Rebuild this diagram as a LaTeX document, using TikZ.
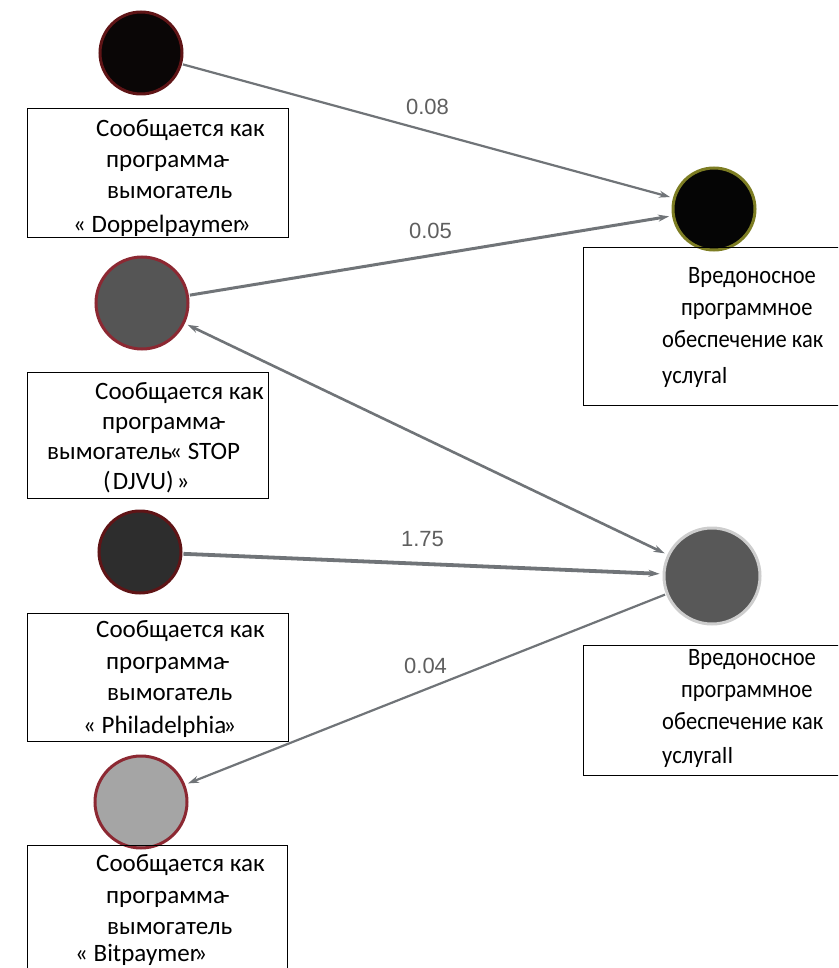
\documentclass[tikz,border=0pt]{standalone}
\usepackage{fontspec}
\setmainfont{Carlito}
\newfontfamily\narrowfont[FakeStretch=0.9]{Carlito}
\newfontfamily\labelfont{Liberation Sans}
\usetikzlibrary{arrows.meta}

% node colours
\definecolor{edgegray}{RGB}{112,116,120}
\definecolor{weightgray}{RGB}{95,95,95}
\definecolor{darkrim}{RGB}{95,20,22}
\definecolor{redrim}{RGB}{140,40,50}
\definecolor{olivrim}{RGB}{125,125,35}
\definecolor{lightrim}{RGB}{205,205,205}
\definecolor{fillA}{RGB}{10,6,6}
\definecolor{fillB}{RGB}{85,85,85}
\definecolor{fillC}{RGB}{45,45,45}
\definecolor{fillD}{RGB}{165,165,165}
\definecolor{fillE}{RGB}{5,5,5}
\definecolor{fillF}{RGB}{88,88,88}

\tikzset{
  vertex/.style={circle, line width=3pt, inner sep=0pt},
  labelbox/.style={draw=black, line width=1.3pt, rectangle, inner sep=0pt, anchor=north west},
  boxtext/.style={anchor=base west, inner sep=0pt, font=\fontsize{25}{28}\selectfont},
  narrowtext/.style={anchor=base west, inner sep=0pt, font=\narrowfont\fontsize{25}{28}\selectfont},
  link/.style={draw=edgegray, -{Stealth[length=11pt,width=7pt]}, shorten >=3pt, shorten <=1pt},
  weight/.style={midway, above=15pt, inner sep=0pt, text=weightgray, font=\labelfont\fontsize{22}{26}\selectfont}
}

% one text line of a label box, placed by its baseline start
\newcommand\textline[4]{\node[boxtext] (#1) at (#2,#3) {#4};}
\newcommand\narrowline[4]{\node[narrowtext] (#1) at (#2,#3) {#4};}
% one label box, from its top left corner, with its size
\newcommand\labelframe[5]{\node[labelbox, minimum width=#4pt, minimum height=#5pt] (#1) at (#2,#3) {};}

\begin{document}
\begin{tikzpicture}[x=1pt, y=-1pt]
\useasboundingbox (0,0) rectangle (838,968);
\clip (0,0) rectangle (838,968);

% vertices
\node[vertex, draw=darkrim, fill=fillA, minimum size=82pt] (A) at (141,53) {};
\node[vertex, draw=redrim,  fill=fillB, minimum size=92pt] (B) at (142,303) {};
\node[vertex, draw=darkrim, fill=fillC, minimum size=82pt] (C) at (140,552) {};
\node[vertex, draw=redrim,  fill=fillD, minimum size=92pt] (D) at (141,802) {};
\node[vertex, draw=olivrim, fill=fillE, minimum size=82pt] (E) at (714,209) {};
\node[vertex, draw=lightrim,fill=fillF, minimum size=96pt] (F) at (712,576) {};

% weighted links
\draw[link, line width=2.2pt] (A) -- (E) node[weight] (w1) {0.08};
\draw[link, line width=3pt]   (B) -- (E) node[weight] (w2) {0.05};
\draw[link, line width=2.6pt, {Stealth[length=11pt,width=7pt]}-{Stealth[length=11pt,width=7pt]}, shorten <=3pt] (F) -- (B);
\draw[link, line width=3.8pt] (C) -- (F) node[weight] (w3) {1.75};
\draw[link, line width=2.2pt] (F) -- (D) node[weight] (w4) {0.04};

% label boxes
\labelframe{bA}{27}{108}{261}{129}
\labelframe{bB}{27}{372}{241}{126}
\labelframe{bC}{27}{613}{261}{128}
\labelframe{bD}{27}{845}{260}{140}
\labelframe{bE}{583}{247}{262}{158}
\labelframe{bF}{583}{645}{262}{130}

% box texts
\textline{a1}{96}{137}{Сообщается как}
\textline{a2}{106}{168}{программа\kern-3pt-}
\textline{a3}{107}{199}{вымогатель}
\textline{a4}{73}{233}{«\ Doppelpaymer\kern-4pt»}

\textline{b1}{95}{399}{Сообщается как}
\textline{b2}{102}{429}{программа\kern-3pt-}
\textline{b3}{47}{459}{вымогатель\kern-3pt«\ STOP}
\textline{b4}{103}{489}{(\kern2pt DJVU)\kern3pt»}

\textline{c1}{96}{637}{Сообщается как}
\textline{c2}{106}{669}{программа\kern-3pt-}
\textline{c3}{107}{700}{вымогатель}
\textline{c4}{83}{733}{«\ Philadelphia\kern-3pt»}

\textline{d1}{96}{871}{Сообщается как}
\textline{d2}{106}{903}{программа\kern-3pt-}
\textline{d3}{107}{934}{вымогатель}
\textline{d4}{75}{961}{«\ Bitpaymer\kern-4pt»}

\narrowline{e1}{688}{283}{Вредоносное}
\narrowline{e2}{681}{315}{программное}
\narrowline{e3}{662}{347}{обеспечение как}
\narrowline{e4}{662}{383}{услугаI}

\narrowline{f1}{688}{665}{Вредоносное}
\narrowline{f2}{681}{697}{программное}
\narrowline{f3}{662}{729}{обеспечение как}
\narrowline{f4}{662}{763}{услугаII}
\end{tikzpicture}
\end{document}
